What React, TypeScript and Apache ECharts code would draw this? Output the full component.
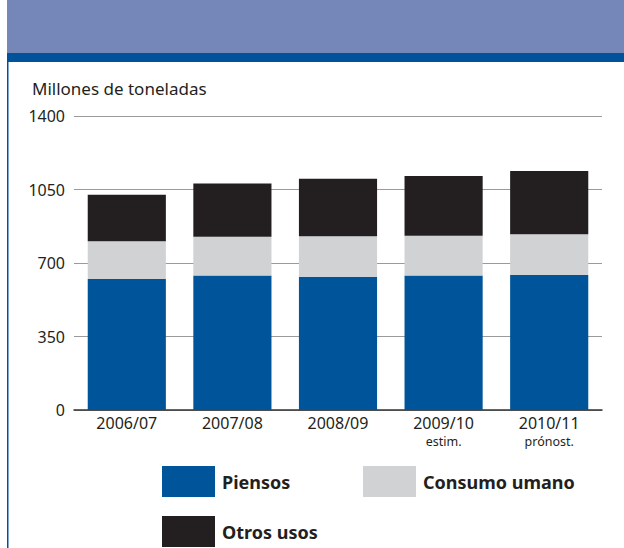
import React, { useEffect, useRef } from "react";
import * as echarts from "echarts";

const categories = ["2006/07", "2007/08", "2008/09", "2009/10", "2010/11"];
const categoryNotes = ["", "", "", "estim.", "prónost."];
const piensos = [624, 640, 635, 641, 643];
const consumoHumano = [179, 185, 192, 189, 194];
const otrosUsos = [222, 253, 274, 284, 301];
const yTicks = { min: 0, max: 1400, interval: 350 };
const seriesNames = ["Piensos", "Consumo umano", "Otros usos"];
const seriesColors = ["#00559A", "#D1D2D4", "#231F20"];

const FONT = "'Noto Sans', 'Open Sans', sans-serif";
const TEXT = "#231F20";

export default function App() {
  const ref = useRef<HTMLDivElement>(null);
  useEffect(() => {
    if (!ref.current) return;
    const chart = echarts.init(ref.current, undefined, { renderer: "svg" });
    const values = [piensos, consumoHumano, otrosUsos];
    const legendPos = [
      { left: 162, top: 466 },
      { left: 363, top: 466 },
      { left: 162, top: 516 },
    ];
    chart.setOption({
      animation: false,
      backgroundColor: "#ffffff",
      textStyle: { fontFamily: FONT },
      grid: { left: 74, right: 22, top: 116, bottom: 138, containLabel: false },
      xAxis: [
        {
          type: "category",
          data: categories,
          axisLine: { show: true, lineStyle: { color: "#333", width: 1.5 } },
          axisTick: { show: false },
          axisLabel: {
            interval: 0,
            margin: 4,
            color: TEXT,
            fontSize: 16,
            fontFamily: FONT,
            lineHeight: 17,
          },
        },
        {
          type: "category",
          data: categoryNotes,
          position: "bottom",
          offset: 23,
          axisLine: { show: false },
          axisTick: { show: false },
          splitLine: { show: false },
          axisLabel: {
            interval: 0,
            margin: 1,
            color: TEXT,
            fontSize: 12.5,
            fontFamily: FONT,
            lineHeight: 15,
          },
        },
      ],
      yAxis: {
        type: "value",
        min: yTicks.min,
        max: yTicks.max,
        interval: yTicks.interval,
        axisLine: { show: false },
        axisTick: { show: false },
        axisLabel: {
          margin: 9,
          color: TEXT,
          fontSize: 16,
          fontFamily: FONT,
          formatter: (v: number) => String(v),
        },
        splitLine: { lineStyle: { color: "#9a9a9a", width: 1.2 } },
      },
      legend: seriesNames.map((n, i) => ({
        data: [n],
        left: legendPos[i].left,
        top: legendPos[i].top,
        padding: 0,
        icon: "rect",
        itemWidth: 53,
        itemHeight: 31,
        itemGap: 0,
        selectedMode: false,
        textStyle: {
          fontSize: 18,
          fontWeight: "bold",
          color: TEXT,
          fontFamily: FONT,
          padding: [0, 0, 0, 2],
        },
      })),
      series: seriesNames.map((n, i) => ({
        name: n,
        type: "bar",
        stack: "total",
        xAxisIndex: 0,
        data: values[i],
        barCategoryGap: "26%",
        itemStyle: { color: seriesColors[i] },
      })),
      graphic: [
        { type: "rect", shape: { x: 7, y: 0, width: 617, height: 54 }, style: { fill: "#7487B8" }, silent: true },
        { type: "rect", shape: { x: 7, y: 53, width: 617, height: 9 }, style: { fill: "#00529B" }, silent: true },
        { type: "rect", shape: { x: 7, y: 62, width: 1.5, height: 486 }, style: { fill: "#00529B" }, silent: true },
        {
          type: "text",
          x: 32,
          y: 88,
          style: {
            text: "Millones de toneladas",
            fill: TEXT,
            fontSize: 17,
            fontFamily: FONT,
            verticalAlign: "middle",
          },
          silent: true,
        },
      ],
    });
    return () => chart.dispose();
  }, []);
  return (
    <div
      ref={ref}
      style={{ position: "fixed", left: 0, top: 0, width: 624, height: 548 }}
    />
  );
}
